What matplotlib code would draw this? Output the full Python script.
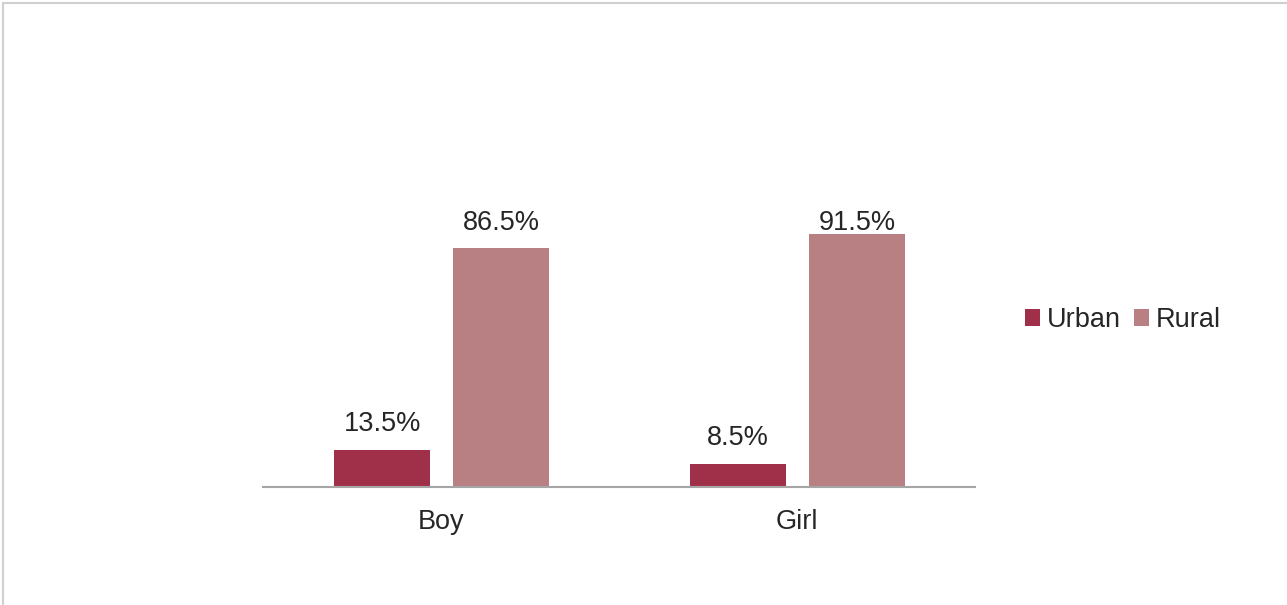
import matplotlib
matplotlib.use("Agg")
import matplotlib.pyplot as plt
import numpy as np
from matplotlib.patches import Rectangle

categories = ["Boy", "Girl"]
series_names = ["Urban", "Rural"]
urban = [13.5, 8.5]
rural = [86.5, 91.5]
colors = ["#A0304A", "#B98083"]

plt.rcParams['font.family'] = ['Liberation Sans', 'DejaVu Sans']

W, H = 1287, 605
fig = plt.figure(figsize=(W / 100, H / 100), dpi=100)

# outer border
fig.patches.append(Rectangle((3 / W, -0.01), 1.02, (H - 3) / H + 0.01, transform=fig.transFigure,
                             fill=False, edgecolor="#D0D0D0", linewidth=1.5))

ax_left, ax_right = 263, 975
ax_bottom, ax_top = 487, 211
ax = fig.add_axes([ax_left / W, 1 - ax_bottom / H, (ax_right - ax_left) / W, (ax_bottom - ax_top) / H])

x = np.arange(len(categories))
bw = 0.27
gap = 0.065
off = (bw + gap) / 2
b1 = ax.bar(x - off + 0.002, urban, bw, color=colors[0], label=series_names[0])
b2 = ax.bar(x + off + 0.002, rural, bw, color=colors[1], label=series_names[1])

fs = 19.5
label_gap = 6.7      # gap between bar top and label baseline, in data units
label_cap = 93.2     # labels are kept inside the plot area
for bars, vals in ((b1, urban), (b2, rural)):
    for rect, v in zip(bars, vals):
        ax.text(rect.get_x() + rect.get_width() / 2, min(rect.get_height() + label_gap, label_cap),
                f"{v}%", ha="center", va="baseline", fontsize=fs, color="#262626")

ax.set_xlim(-0.5, 1.5)
ax.set_ylim(0, 100)
ax.set_xticks(x)
ax.set_xticklabels(categories, fontsize=fs, color="#262626")
ax.tick_params(axis="x", length=0, pad=16)
ax.set_yticks([])
for s in ("top", "right", "left"):
    ax.spines[s].set_visible(False)
ax.spines["bottom"].set_color("#A6A6A6")
ax.spines["bottom"].set_linewidth(1.5)

fig.legend(handles=[b1, b2], labels=series_names, loc="center left",
           bbox_to_anchor=(1025 / W, 1 - 320 / H), ncol=2, frameon=False, fontsize=fs,
           handlelength=0.55, handleheight=0.55, handletextpad=0.25, columnspacing=0.5,
           labelcolor="#262626", borderaxespad=0, borderpad=0)

fig.savefig("out.png", dpi=100)
